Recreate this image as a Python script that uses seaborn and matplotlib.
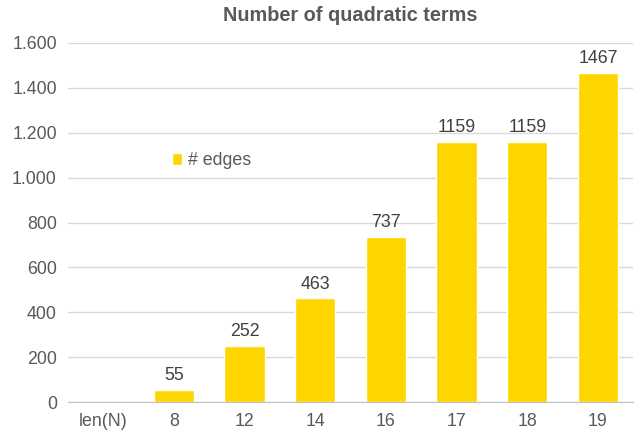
import numpy as np
import pandas as pd
import matplotlib
matplotlib.use('Agg')
import matplotlib.pyplot as plt
import seaborn as sns

# chart data
categories = ['len(N)', '8', '12', '14', '16', '17', '18', '19']
edges = [np.nan, 55, 252, 463, 737, 1159, 1159, 1467]
yticks = [0, 200, 400, 600, 800, 1000, 1200, 1400, 1600]

df = pd.DataFrame({'len': categories, 'edges': edges})

sns.set_style('white')
plt.rcParams['font.family'] = ['Liberation Sans', 'DejaVu Sans']
text_col = '#595959'

fig = plt.figure(figsize=(6.41, 4.38), dpi=100)
ax = fig.add_axes([0.106, 0.082, 0.882, 0.820])

sns.barplot(data=df.dropna(), x='len', y='edges', order=categories,
            color='#FFD500', saturation=1, width=0.57, label='# edges', ax=ax)

# value labels above the bars
for c in ax.containers:
    ax.bar_label(c, fmt='%d', padding=4, fontsize=12.8, color='#404040')

ax.set_ylim(0, 1600)
ax.set_yticks(yticks)
ax.set_yticklabels([f'{v:,}'.replace(',', '.') for v in yticks])
ax.grid(axis='y', color='#D9D9D9', linewidth=1)
ax.set_axisbelow(True)
for s in ['top', 'right', 'left']:
    ax.spines[s].set_visible(False)
ax.spines['bottom'].set_color('#BFBFBF')
ax.tick_params(axis='both', length=0, labelsize=12.8, labelcolor=text_col, pad=8)
ax.set_xlabel('')
ax.set_ylabel('')

ax.set_title('Number of quadratic terms', fontsize=14.3, fontweight='bold',
             color=text_col, pad=16)

ax.legend(loc='upper left', bbox_to_anchor=(0.155, 0.74), frameon=False,
          fontsize=12.8, labelcolor=text_col, handlelength=0.6,
          handleheight=0.6, handletextpad=0.3)

fig.savefig('out.png', dpi=100)
